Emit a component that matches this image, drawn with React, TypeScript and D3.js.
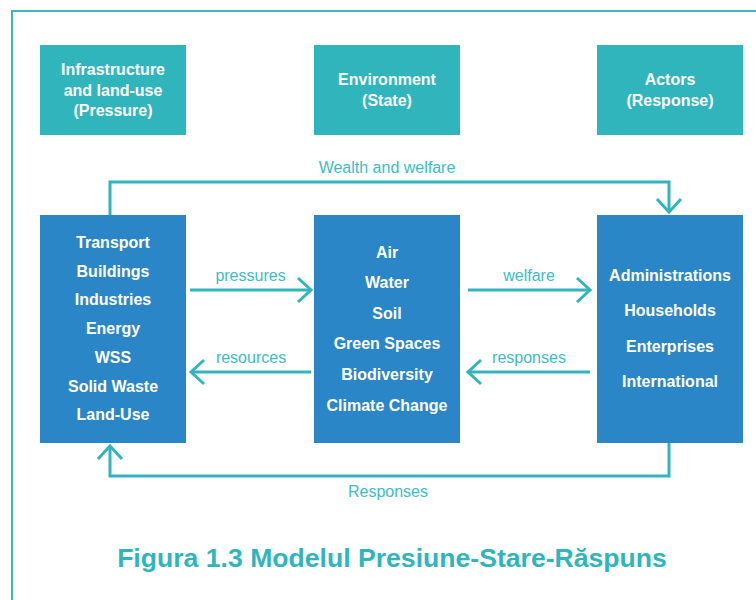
import React from 'react';
import { scaleOrdinal, scalePoint, line } from 'd3';

// column ids and box texts
const columns = ['pressure', 'state', 'response'];
const headers = [
  ['Infrastructure', 'and land-use', '(Pressure)'],
  ['Environment', '(State)'],
  ['Actors', '(Response)'],
];
const items = [
  ['Transport', 'Buildings', 'Industries', 'Energy', 'WSS', 'Solid Waste', 'Land-Use'],
  ['Air', 'Water', 'Soil', 'Green Spaces', 'Biodiversity', 'Climate Change'],
  ['Administrations', 'Households', 'Enterprises', 'International'],
];
const flowLabels = ['pressures', 'resources', 'welfare', 'responses'];
const loopLabels = ['Wealth and welfare', 'Responses'];
const title = 'Figura 1.3 Modelul Presiune-Stare-Răspuns';

const TEAL = '#31b5bc';
const BLUE = '#2b86c7';
const LABEL = '#3dbcc4';
const FONT = '"Liberation Sans", Arial, sans-serif';

const W = 756;
const H = 600;
const boxW = 146;
const head = { y: 45, h: 90 };
const body = { y: 215, h: 228 };
const itemStep = [28.7, 30.6, 35.3];

const x = scaleOrdinal<string, number>().domain(columns).range([40, 314, 597]);
const cx = (c: string) => x(c) + boxW / 2;

const path = line<[number, number]>();

const chevron = (tx: number, ty: number, dir: 'r' | 'l' | 'u' | 'd') => {
  const a = 13, b = 12;
  let pts: [number, number][];
  if (dir === 'r') pts = [[tx - a, ty - b], [tx, ty], [tx - a, ty + b]];
  else if (dir === 'l') pts = [[tx + a, ty - b], [tx, ty], [tx + a, ty + b]];
  else if (dir === 'd') pts = [[tx - b, ty - a], [tx, ty], [tx + b, ty - a]];
  else pts = [[tx - b, ty + a], [tx, ty], [tx + b, ty + a]];
  return path(pts) as string;
};

const App = () => {
  const topY = 290;
  const botY = 372;

  // horizontal flows between boxes
  const flows = [
    { from: x('pressure') + boxW + 4, to: x('state') - 3, y: topY, label: flowLabels[0] },
    { from: x('state') - 3, to: x('pressure') + boxW + 5, y: botY, label: flowLabels[1] },
    { from: x('state') + boxW + 8, to: x('response') - 7, y: topY, label: flowLabels[2] },
    { from: x('response') - 7, to: x('state') + boxW + 8, y: botY, label: flowLabels[3] },
  ];

  const leftX = cx('pressure') - 3;
  const rightX = cx('response') - 1;
  const wealthY = 182;
  const respY = 476;

  return (
    <div style={{ position: 'absolute', left: 0, top: 0 }}>
      <svg width={W} height={H} style={{ display: 'block', background: '#fff' }}>
        <rect x={12} y={11} width={900} height={800} fill="none" stroke="#3ab9c0" strokeWidth={2} />

        {columns.map((c, i) => (
          <g key={c}>
            <rect x={x(c)} y={head.y} width={boxW} height={head.h} fill={TEAL} />
            {headers[i].map((t, j) => (
              <text
                key={t}
                x={cx(c)}
                y={head.y + head.h / 2 + (j - (headers[i].length - 1) / 2) * 20.5}
                dy="0.35em"
                textAnchor="middle"
                fill="#fff"
                fontFamily={FONT}
                fontWeight="bold"
                fontSize={16}
              >
                {t}
              </text>
            ))}
            <rect x={x(c)} y={body.y} width={boxW} height={body.h} fill={BLUE} />
            {(() => {
              const n = items[i].length;
              const mid = 328.5;
              const half = ((n - 1) * itemStep[i]) / 2;
              const y = scalePoint<string>().domain(items[i]).range([mid - half, mid + half]);
              return items[i].map((t) => (
                <text
                  key={t}
                  x={cx(c)}
                  y={y(t)}
                  dy="0.35em"
                  textAnchor="middle"
                  fill="#fff"
                  fontFamily={FONT}
                  fontWeight="bold"
                  fontSize={16}
                >
                  {t}
                </text>
              ));
            })()}
          </g>
        ))}

        {flows.map((f) => (
          <g key={f.label}>
            <path d={path([[f.from, f.y], [f.to, f.y]]) as string} stroke={TEAL} strokeWidth={3} fill="none" />
            <path
              d={chevron(f.to, f.y, f.to > f.from ? 'r' : 'l')}
              stroke={TEAL}
              strokeWidth={3}
              fill="none"
            />
            <text
              x={(f.from + f.to) / 2}
              y={f.y - 9}
              textAnchor="middle"
              fill={LABEL}
              fontFamily={FONT}
              fontSize={16}
            >
              {f.label}
            </text>
          </g>
        ))}

        {/* wealth and welfare loop */}
        <path
          d={path([[leftX, body.y], [leftX, wealthY], [rightX, wealthY], [rightX, body.y - 3]]) as string}
          stroke={TEAL}
          strokeWidth={3}
          fill="none"
        />
        <path d={chevron(rightX, body.y - 3, 'd')} stroke={TEAL} strokeWidth={3} fill="none" />
        <text x={387} y={173} textAnchor="middle" fill={LABEL} fontFamily={FONT} fontSize={16}>
          {loopLabels[0]}
        </text>

        {/* responses loop */}
        <path
          d={path([[rightX, body.y + body.h], [rightX, respY], [leftX, respY], [leftX, body.y + body.h + 3]]) as string}
          stroke={TEAL}
          strokeWidth={3}
          fill="none"
        />
        <path d={chevron(leftX, body.y + body.h + 3, 'u')} stroke={TEAL} strokeWidth={3} fill="none" />
        <text x={388} y={497} textAnchor="middle" fill={LABEL} fontFamily={FONT} fontSize={16}>
          {loopLabels[1]}
        </text>

        <text x={392} y={567} textAnchor="middle" fill={TEAL} fontFamily={FONT} fontWeight="bold" fontSize={26.6}>
          {title}
        </text>
      </svg>
    </div>
  );
};

export default App;
